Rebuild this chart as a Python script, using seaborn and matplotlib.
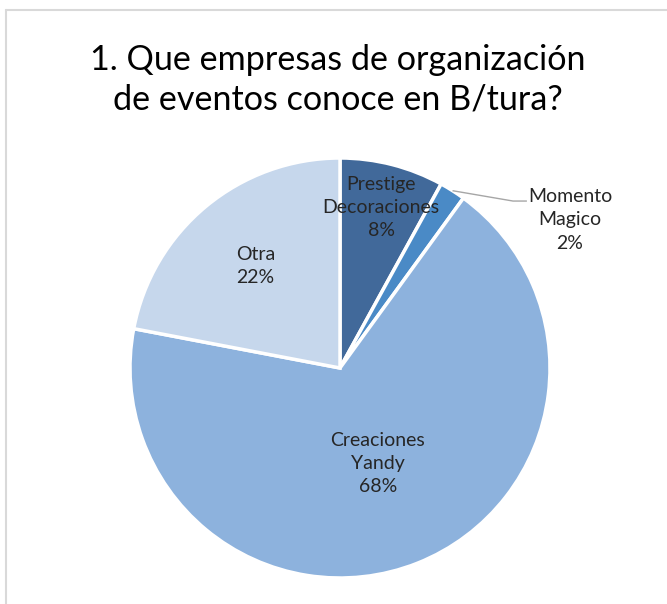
import numpy as np
import matplotlib
matplotlib.use("Agg")
import matplotlib.pyplot as plt
import seaborn as sns
from matplotlib.lines import Line2D

categories = ["Prestige\nDecoraciones", "Momento\nMagico", "Creaciones\nYandy", "Otra"]
values = [8, 2, 68, 22]
colors = ["#41699A", "#4A8AC6", "#8DB2DD", "#C6D7EC"]
title = "1. Que empresas de organización\nde eventos conoce en B/tura?"

sns.set_theme(style="white")
plt.rcParams['font.family'] = ['Lato', 'DejaVu Sans']

W, H = 667, 604
fig = plt.figure(figsize=(W / 100, H / 100), dpi=100)
fig.patch.set_facecolor("white")

# frame (left and top edges visible)
fig.add_artist(Line2D([5.5 / W, 5.5 / W], [0, 1 - 10 / H], transform=fig.transFigure, color="#D9D9D9", lw=1.5))
fig.add_artist(Line2D([5.5 / W, 1], [1 - 10 / H, 1 - 10 / H], transform=fig.transFigure, color="#D9D9D9", lw=1.5))

cx, cy, r = 340, 368, 210
ax = fig.add_axes([(cx - r) / W, (H - cy - r) / H, 2 * r / W, 2 * r / H])
wedges, _ = ax.pie(values, colors=colors, startangle=90, counterclock=False,
                   wedgeprops=dict(edgecolor="white", linewidth=2.5))
ax.set_xlim(-1, 1)
ax.set_ylim(-1, 1)
ax.set_aspect("equal")
ax.axis("off")

dists = [0.79, None, 0.49, 0.63]
fs = 14
for w, lab, v, d in zip(wedges, categories, values, dists):
    mid = np.deg2rad((w.theta1 + w.theta2) / 2)
    txt = f"{lab}\n{v}%"
    if d is not None:
        ax.text(d * np.cos(mid), d * np.sin(mid), txt, ha="center", va="center",
                fontsize=fs, color="#262626", linespacing=1.45)
    else:
        lx, ly = 1.095, 0.705
        ax.text(lx, ly, txt, ha="center", va="center", fontsize=fs,
                color="#262626", linespacing=1.45)
        sx, sy = np.cos(mid), np.sin(mid)
        ex, ey = lx - 0.205, ly + 0.09
        ax.plot([sx, ex - 0.066, ex], [sy, ey, ey], color="#A6A6A6", lw=1,
                clip_on=False, solid_capstyle="butt")

fig.text(338 / W, 1 - 80 / H, title, ha="center", va="center", fontsize=24.6,
         color="black", linespacing=1.28)

fig.savefig("out.png", dpi=100)
